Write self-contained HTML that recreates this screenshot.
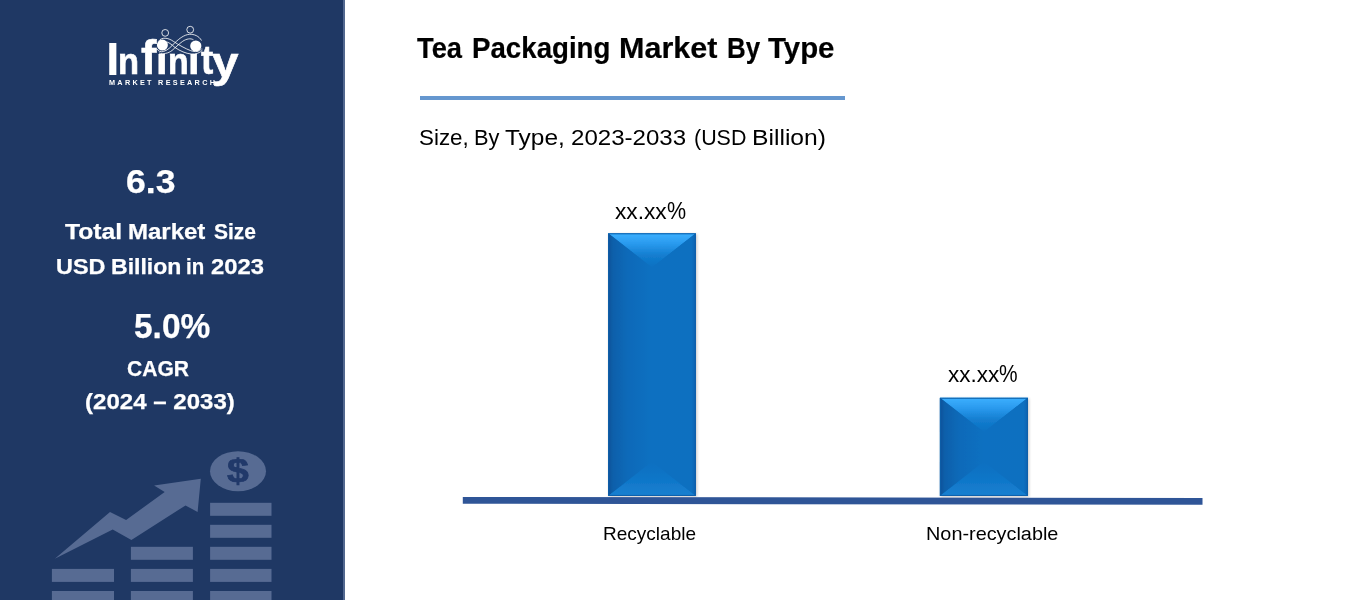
<!DOCTYPE html>
<html lang="en">
<head>
<meta charset="utf-8">
<title>Tea Packaging Market By Type</title>
<style>
html,body{margin:0;padding:0;background:#fff}
body{width:1357px;height:600px;position:relative;overflow:hidden;font-family:"Liberation Sans",sans-serif}
.t{position:absolute;white-space:nowrap;line-height:1;transform-origin:0 0;font-family:"Liberation Sans",sans-serif}
.w{position:absolute;top:0;white-space:nowrap;transform-origin:0 0}
#v1,#l1,#l2,#v2,#l3,#l4{-webkit-text-stroke:0.25px #fff}
#title{-webkit-text-stroke:0.2px #000}
#side{position:absolute;left:0;top:0;width:343px;height:600px;background:#1f3864}
#edge{position:absolute;left:343px;top:0;width:2px;height:600px;background:#52688f}
#rule{position:absolute;left:420px;top:96px;width:425px;height:3.8px;background:#6597cf}
svg{position:absolute;left:0;top:0}
</style>
</head>
<body>
<div id="side"></div>
<div id="edge"></div>
<div id="rule"></div>
<svg id="art" width="1357" height="600" viewBox="0 0 1357 600">
<defs>
<linearGradient id="gtop" x1="0" y1="0" x2="0" y2="1"><stop offset="0" stop-color="#3cb0ff"/><stop offset="0.3" stop-color="#2a9aee"/><stop offset="0.65" stop-color="#137dcf"/><stop offset="1" stop-color="#0c70c1"/></linearGradient>
<linearGradient id="gleft" x1="0" y1="0" x2="1" y2="0"><stop offset="0" stop-color="#07529a"/><stop offset="0.12" stop-color="#0a60ab"/><stop offset="0.45" stop-color="#0b6ab9"/><stop offset="1" stop-color="#0c70c1"/></linearGradient>
<linearGradient id="gright" x1="0" y1="0" x2="1" y2="0"><stop offset="0" stop-color="#0c70c1"/><stop offset="0.9" stop-color="#0c6fc0"/><stop offset="1" stop-color="#0a63b0"/></linearGradient>
<linearGradient id="gbot" x1="0" y1="0" x2="0" y2="1"><stop offset="0" stop-color="#0c70c1"/><stop offset="0.4" stop-color="#0e74c6"/><stop offset="1" stop-color="#1780d1"/></linearGradient>
<filter id="sh" x="-20%" y="-10%" width="140%" height="120%"><feGaussianBlur in="SourceAlpha" stdDeviation="1.6"/><feOffset dx="0.5" dy="0.5"/><feComponentTransfer><feFuncA type="linear" slope="0.22"/></feComponentTransfer><feMerge><feMergeNode/><feMergeNode in="SourceGraphic"/></feMerge></filter>
</defs>
<g fill="#576b93">
<rect x="51.9" y="568.9" width="62.1" height="13"/>
<rect x="51.9" y="591.0" width="62.1" height="13"/>
<rect x="130.9" y="546.8" width="62.0" height="13"/>
<rect x="130.9" y="568.9" width="62.0" height="13"/>
<rect x="130.9" y="591.0" width="62.0" height="13"/>
<rect x="210.1" y="502.8" width="61.4" height="13"/>
<rect x="210.1" y="524.8" width="61.4" height="13"/>
<rect x="210.1" y="546.8" width="61.4" height="13"/>
<rect x="210.1" y="568.9" width="61.4" height="13"/>
<rect x="210.1" y="591.0" width="61.4" height="13"/>
<polygon points="54.8,558.7 110.0,512.0 126.1,520.0 164.7,492.0 154.1,485.4 200.8,478.7 197.6,512.0 185.5,505.4 131.4,540.1 112.7,529.4"/>
<ellipse cx="238" cy="471.2" rx="28" ry="20"/>
</g>

<!-- chart -->
<g id="bar1" filter="url(#sh)">
<rect x="608.2" y="233.3" width="87.6" height="262.6" fill="#0c70c1"/>
<polygon points="608.2,233.3 695.8,233.3 652,267.5" fill="url(#gtop)"/>
<polygon points="608.2,233.3 652,267.5 652,461.7 608.2,495.9" fill="url(#gleft)"/>
<polygon points="695.8,233.3 652,267.5 652,461.7 695.8,495.9" fill="url(#gright)"/>
<polygon points="608.2,495.9 695.8,495.9 652,461.7" fill="url(#gbot)"/>
<rect x="608.7" y="233.8" width="86.6" height="261.6" fill="none" stroke="#0a5fa9" stroke-width="1"/>
</g>
<g id="bar2" filter="url(#sh)">
<rect x="939.9" y="397.8" width="88" height="98.1" fill="#0c70c1"/>
<polygon points="939.9,397.8 1027.9,397.8 983.9,432" fill="url(#gtop)"/>
<polygon points="939.9,397.8 983.9,432 983.9,461.7 939.9,495.9" fill="url(#gleft)"/>
<polygon points="1027.9,397.8 983.9,432 983.9,461.7 1027.9,495.9" fill="url(#gright)"/>
<polygon points="939.9,495.9 1027.9,495.9 983.9,461.7" fill="url(#gbot)"/>
<rect x="940.4" y="398.3" width="87" height="97.1" fill="none" stroke="#0a5fa9" stroke-width="1"/>
</g>
<g id="swirl" fill="none" stroke="#fff" stroke-width="1" stroke-opacity="0.82">
<circle cx="165.2" cy="32.9" r="3.4"/>
<circle cx="190.2" cy="29.7" r="3.4"/>
<path d="M158.8,41 C161.5,37 168,37.5 173.3,41.3 C179,45 185,48.5 190.8,50.7 C195,52.2 199.5,52 201.8,48.5"/>
<path d="M167,42 C170,43 172,45 175,47.5 C180,51 186,53.5 191,54 C196,54.3 200,53 202.5,50"/>
<path d="M201.5,40.5 C199,36 194,34 189.5,34.3 C184,34.8 179.5,38.5 175.1,42.5 C171,46.5 168.5,50 163.5,51.5 C160.5,52.3 158.2,51 157,49"/>
<path d="M193.5,39.8 C190.5,38 186.5,38.8 182.7,41.3 C178.5,44.3 175.5,47.5 172,50.5 C168.5,53.3 163,54.5 159,53"/>
</g>
<circle cx="162.4" cy="45.1" r="5.5" fill="#fff"/>
<circle cx="195.8" cy="46" r="5.6" fill="#fff"/>
<polygon points="462.8,497 1202.5,497.9 1202.5,504.7 462.8,503.8" fill="#2f5597"/>
</svg>
<div id="logo" style="font-weight:700;color:#fff"><span class="t" style="left:105.91px;top:35.5px;font-size:46.29px;transform:scaleX(1.056);-webkit-text-stroke:0px #fff">I</span><span class="t" style="left:118.22px;top:42.75px;font-size:37.17px;transform:scaleX(0.927);-webkit-text-stroke:0.7px #fff">n</span><span class="t" style="left:140.58px;top:32.73px;font-size:48.59px;transform:scaleX(0.955);-webkit-text-stroke:0.6px #fff">f</span><span class="t" style="left:155.97px;top:42.75px;font-size:37.17px;transform:scaleX(1.124);-webkit-text-stroke:0.6px #fff;clip-path:inset(30% 0 0 0)">i</span><span class="t" style="left:168.05px;top:42.75px;font-size:37.17px;transform:scaleX(0.911);-webkit-text-stroke:0.7px #fff">n</span><span class="t" style="left:188.47px;top:42.75px;font-size:37.17px;transform:scaleX(1.124);-webkit-text-stroke:0.6px #fff;clip-path:inset(30% 0 0 0)">i</span><span class="t" style="left:200.83px;top:38.75px;font-size:41.49px;transform:scaleX(0.888);-webkit-text-stroke:0.6px #fff">t</span><span class="t" style="left:212.02px;top:41.25px;font-size:42.7px;transform:scaleX(1.115);-webkit-text-stroke:0.6px #fff">y</span></div>
<div class="t" id="mr" style="left:109.0px;top:78.85px;font-size:7.25px;font-weight:700;color:#fff;letter-spacing:2.3px">MARKET RESEARCH</div>
<div class="t" id="usd" style="left:227.4px;top:454.1px;font-size:33.2px;font-weight:700;color:#21396a;-webkit-text-stroke:0.7px #21396a;transform:scaleX(1.18)">$</div>
<div class="t" id="title" style="left:0;top:34.4px;font-size:29.24px;font-weight:700;color:#000"><span class="w" style="left:417.48px;transform:scaleX(0.9337)">Tea</span> <span class="w" style="left:472.15px;transform:scaleX(0.9467)">Packaging</span> <span class="w" style="left:618.76px;transform:scaleX(1.0435)">Market</span> <span class="w" style="left:726.87px;transform:scaleX(0.8871)">By</span> <span class="w" style="left:768.25px;transform:scaleX(1.0057)">Type</span></div>
<div class="t" id="sub" style="left:0;top:126.5px;font-size:21.65px;font-weight:400;color:#000"><span class="w" style="left:418.74px;transform:scaleX(1.0347)">Size,</span> <span class="w" style="left:473.91px;transform:scaleX(1.0075)">By</span> <span class="w" style="left:505.44px;transform:scaleX(1.1311)">Type,</span> <span class="w" style="left:570.87px;transform:scaleX(1.1123)">2023-2033</span> <span class="w" style="left:693.53px;transform:scaleX(0.9901)">(USD</span> <span class="w" style="left:752.17px;transform:scaleX(1.1394)">Billion)</span></div>
<div class="t" id="v1" style="left:125.75px;top:164.6px;font-size:33.43px;font-weight:700;color:#fff;transform:scaleX(1.0653)">6.3</div>
<div class="t" id="l1" style="left:0;top:220.8px;font-size:22.07px;font-weight:700;color:#fff"><span class="w" style="left:65.1px;transform:scaleX(1.118)">Total</span> <span class="w" style="left:127.79px;transform:scaleX(1.0876)">Market</span> <span class="w" style="left:213.78px;transform:scaleX(0.951)">Size</span></div>
<div class="t" id="l2" style="left:0;top:255.6px;font-size:21.93px;font-weight:700;color:#fff"><span class="w" style="left:55.88px;transform:scaleX(1.0675)">USD</span> <span class="w" style="left:110.85px;transform:scaleX(1.0509)">Billion</span> <span class="w" style="left:186.36px;transform:scaleX(0.9337)">in</span> <span class="w" style="left:211.27px;transform:scaleX(1.0856)">2023</span></div>
<div class="t" id="v2" style="left:133.81px;top:308.9px;font-size:35.57px;font-weight:700;color:#fff;transform:scaleX(0.9406)">5.0%</div>
<div class="t" id="l3" style="left:127.09px;top:357.7px;font-size:22.57px;font-weight:700;color:#fff;transform:scaleX(0.9328)">CAGR</div>
<div class="t" id="l4" style="left:85.07px;top:390.7px;font-size:22.43px;font-weight:700;color:#fff;transform:scaleX(1.0727)">(2024 – 2033)</div>
<div class="t" id="p1" style="left:0;top:198.75px;font-size:24.05px;font-weight:400;color:#000"><span class="w" style="left:615.19px;transform:scaleX(1.0269);font-size:22.1px;top:2.0px">xx.xx</span><span class="w" style="left:667.09px;transform:scaleX(0.8938)">%</span></div>
<div class="t" id="p2" style="left:0;top:361.9px;font-size:24.27px;font-weight:400;color:#000"><span class="w" style="left:947.7px;transform:scaleX(1.0177);font-size:22.1px;top:2.0px">xx.xx</span><span class="w" style="left:999.32px;transform:scaleX(0.8603)">%</span></div>
<div class="t" id="c1" style="left:603.04px;top:524.6px;font-size:17.99px;font-weight:400;color:#000;transform:scaleX(1.0576)">Recyclable</div>
<div class="t" id="c2" style="left:926.36px;top:524.6px;font-size:18.28px;font-weight:400;color:#000;transform:scaleX(1.0869)">Non-recyclable</div>
</body>
</html>
